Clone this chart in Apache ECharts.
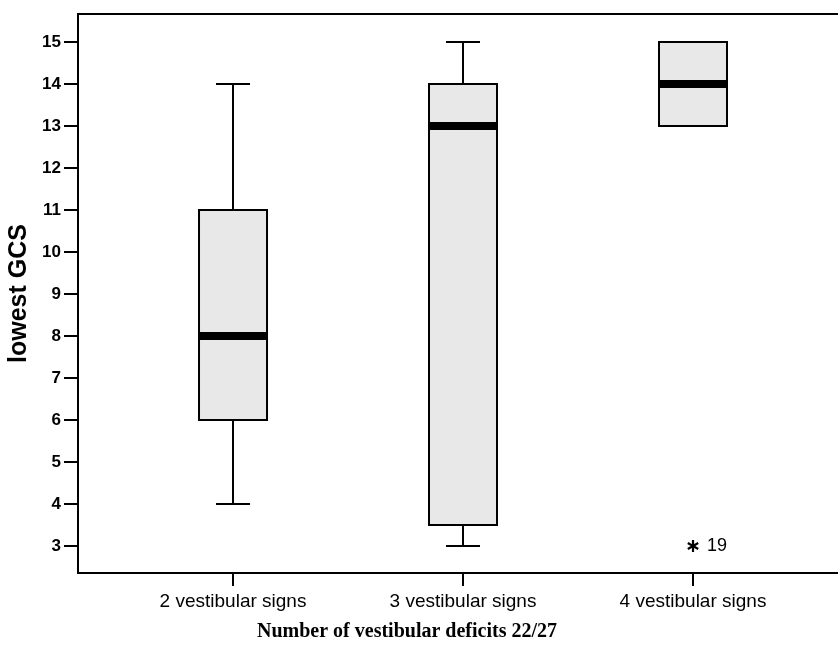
<!DOCTYPE html>
<html>
<head>
<meta charset="utf-8">
<script src="https://cdn.jsdelivr.net/npm/echarts@6/dist/echarts.min.js"></script>
<style>html,body{margin:0;padding:0;background:#fff}#c{width:838px;height:645px}</style>
</head>
<body>
<div id="c"></div>
<script>
// ---- data ----
const categories = ['2 vestibular signs', '3 vestibular signs', '4 vestibular signs'];
const lowWhisker = [4, 3, 13];
const q1 = [6, 3.5, 13];
const median = [8, 13, 14];
const q3 = [11, 14, 15];
const highWhisker = [14, 15, 15];
const outlierCategory = [3];      // 1-based category position
const outlierValue = [3];
const outlierLabel = ['19'];
const yTicks = [3, 4, 5, 6, 7, 8, 9, 10, 11, 12, 13, 14, 15];
const xTicks = [1, 2, 3];

const boxData = categories.map((c, i) => [i + 1, lowWhisker[i], q1[i], median[i], q3[i], highWhisker[i]]);
const outData = outlierValue.map((v, i) => [outlierCategory[i], v, outlierLabel[i]]);

const chart = echarts.init(document.getElementById('c'), null, {renderer: 'canvas'});
const black = '#000';
chart.setOption({
  animation: false,
  backgroundColor: '#fff',
  grid: {left: 78, top: 14, width: 776, height: 559, containLabel: false, outerBoundsMode: 'none',
    show: true, borderColor: black, borderWidth: 2, backgroundColor: 'transparent'},
  xAxis: {
    type: 'value', min: 0.326, max: 3.7,
    splitLine: {show: false},
    axisLine: {lineStyle: {color: black, width: 2}},
    axisTick: {customValues: xTicks, length: 13, lineStyle: {color: black, width: 2}},
    axisLabel: {customValues: xTicks, margin: 19, color: black, fontSize: 19, fontFamily: 'Liberation Sans, Arial',
      formatter: v => categories[Math.round(v) - 1] || ''}
  },
  yAxis: {
    type: 'value', min: 2.357, max: 15.667,
    splitLine: {show: false},
    axisLine: {show: true, lineStyle: {color: black, width: 2}},
    axisTick: {show: true, customValues: yTicks, length: 14, lineStyle: {color: black, width: 2}},
    axisLabel: {customValues: yTicks, margin: 17, color: black, fontSize: 17, fontWeight: 'bold', fontFamily: 'Liberation Sans, Arial'},
    name: 'lowest GCS', nameLocation: 'middle', nameGap: 45,
    nameTextStyle: {color: black, fontSize: 25, fontWeight: 'bold', fontFamily: 'Liberation Sans, Arial'}
  },
  graphic: [{
    type: 'text', left: 405 - 148, top: 622,
    style: {text: 'Number of vestibular deficits 22/27', fill: black, font: 'bold 20px "Liberation Serif", "Times New Roman", serif'}
  }],
  series: [{
    type: 'custom',
    data: boxData,
    renderItem: function (params, api) {
      const x = api.value(0);
      const pLow = api.coord([x, api.value(1)]);
      const pQ1 = api.coord([x, api.value(2)]);
      const pMed = api.coord([x, api.value(3)]);
      const pQ3 = api.coord([x, api.value(4)]);
      const pHigh = api.coord([x, api.value(5)]);
      const cx = pMed[0];
      const hw = 34, cw = 17;
      const ls = {stroke: black, lineWidth: 2, fill: null};
      return {type: 'group', children: [
        {type: 'line', shape: {x1: cx, y1: pLow[1], x2: cx, y2: pQ1[1]}, style: ls},
        {type: 'line', shape: {x1: cx, y1: pQ3[1], x2: cx, y2: pHigh[1]}, style: ls},
        {type: 'line', shape: {x1: cx - cw, y1: pLow[1], x2: cx + cw, y2: pLow[1]}, style: ls},
        {type: 'line', shape: {x1: cx - cw, y1: pHigh[1], x2: cx + cw, y2: pHigh[1]}, style: ls},
        {type: 'rect', shape: {x: cx - hw, y: pQ3[1], width: hw * 2, height: pQ1[1] - pQ3[1]},
          style: {fill: '#e8e8e8', stroke: black, lineWidth: 2}},
        {type: 'line', shape: {x1: cx - hw, y1: pMed[1], x2: cx + hw, y2: pMed[1]}, style: {stroke: black, lineWidth: 8}}
      ]};
    }
  }, {
    type: 'custom',
    data: outData,
    renderItem: function (params, api) {
      const p = api.coord([api.value(0), api.value(1)]);
      const r = 6;
      const arms = [90, 30, 150].map(a => {
        const t = a * Math.PI / 180;
        return {type: 'line', shape: {x1: p[0] - r * Math.cos(t), y1: p[1] - r * Math.sin(t), x2: p[0] + r * Math.cos(t), y2: p[1] + r * Math.sin(t)},
          style: {stroke: black, lineWidth: 2.2}};
      });
      return {type: 'group', children: arms.concat([{
        type: 'text', x: p[0] + 14, y: p[1],
        style: {text: outlierLabel[params.dataIndex], fill: black, font: '18px "Liberation Sans", Arial', verticalAlign: 'middle', align: 'left'}
      }])};
    }
  }]
});
</script>
</body>
</html>
